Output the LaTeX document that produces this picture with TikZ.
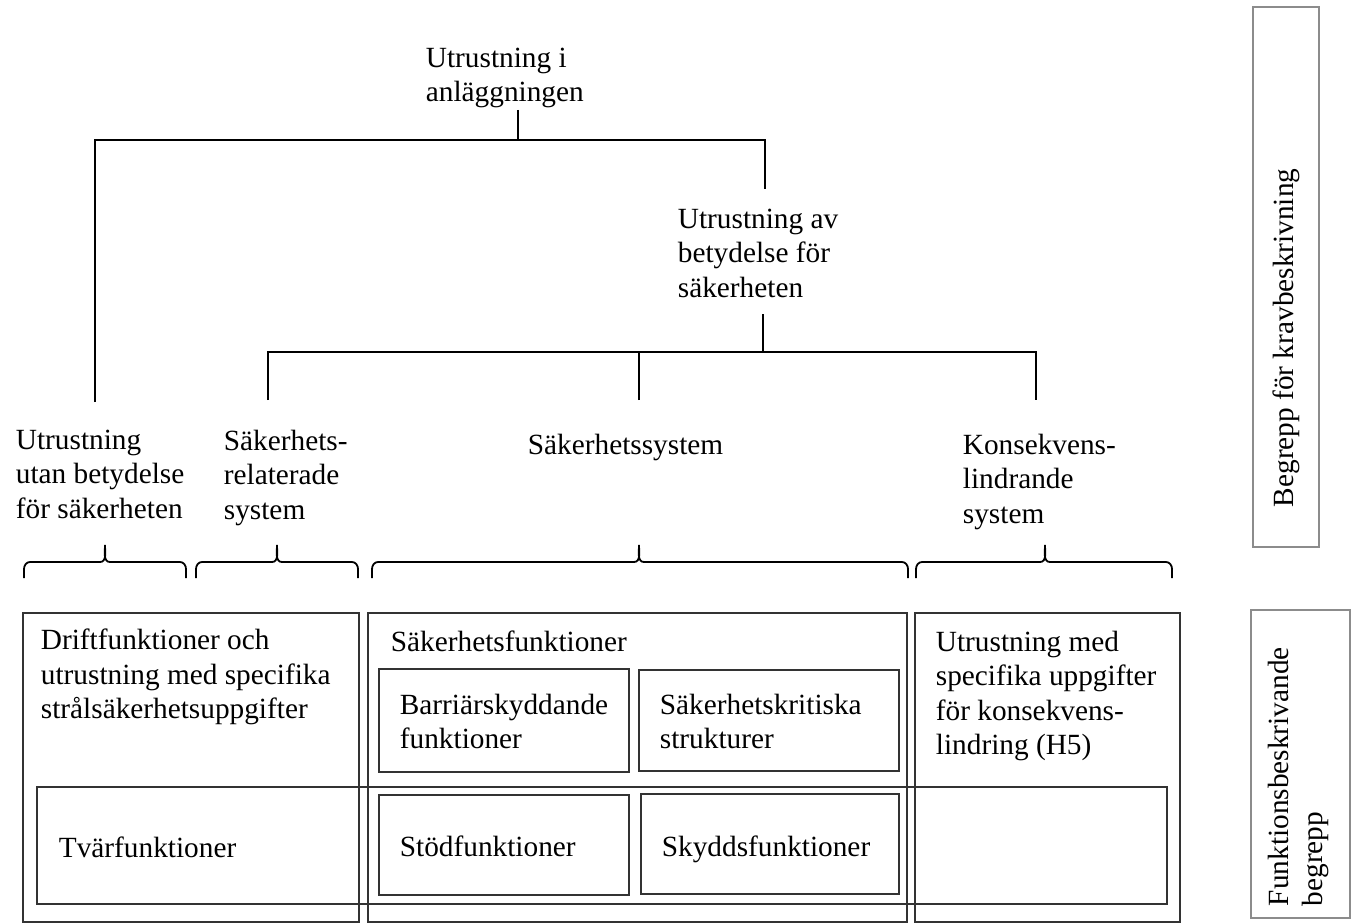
\documentclass[tikz,border=0pt]{standalone}
\usepackage{fontspec}
\setmainfont{Liberation Serif}
\usetikzlibrary{calc}

\begin{document}
\begin{tikzpicture}[
    x = 1pt,
    y = -1pt,
    line width = 1.8pt,
    label/.style = {
      anchor = north west,
      align = left,
      inner sep = 0pt,
      font = \fontsize{29.3}{34.5}\selectfont
    },
    side/.style = {
      label,
      rotate = 90
    },
    frame/.style = {
      draw = black!80,
      line width = 1.4pt
    },
    sideframe/.style = {
      draw = black!45,
      line width = 1.4pt
    }
  ]
  \useasboundingbox (0,0) rectangle (1352,923);

  % tree
  \node[label] (anl) at (425,47) {Utrustning i\\anläggningen};
  \node[label] (bet) at (677,208) {Utrustning av\\betydelse för\\säkerheten};

  \node[label] (utan) at (15,429) {Utrustning\\utan betydelse\\för säkerheten};
  \node[label] (rel) at (223,429) {Säkerhets-\\relaterade\\system};
  \node[label] (sys) at (527,433) {Säkerhetssystem};
  \node[label] (kons) at (962,433) {Konsekvens-\\lindrande\\system};

  \coordinate (ta) at (518,110);
  \coordinate (tb) at (518,140);
  \coordinate (tl) at (95,402);
  \coordinate (tr) at (765,189);
  \draw (ta) -- (tb);
  \draw (tl) -- (tl |- tb) -- (tr |- tb) -- (tr);

  \coordinate (sa) at (763,314);
  \coordinate (sb) at (763,352);
  \coordinate (s1) at (268,400);
  \coordinate (s2) at (639,400);
  \coordinate (s3) at (1036,400);
  \draw (sa) -- (sb);
  \draw (s1) -- (s1 |- sb) -- (s3 |- sb) -- (s3);
  \draw (s2) -- (s2 |- sb);

  % braces
  \foreach \xa/\xm/\xb in {24/105/186, 196/277/358, 372/639/908, 916/1045/1172}
    \draw (\xa,578) -- (\xa,569) to[out=90,in=180] (\xa+6,562)
      -- (\xm-5,562) to[out=0,in=-90] (\xm,545) to[out=-90,in=180] (\xm+5,562)
      -- (\xb-6,562) to[out=0,in=90] (\xb,569) -- (\xb,578);

  % boxes
  \draw[frame] (23,613) rectangle (359,922);
  \draw[frame] (368,613) rectangle (907,922);
  \draw[frame] (915,613) rectangle (1180,922);
  \draw[frame] (37,787) rectangle (1167,904);
  \draw[frame] (379,669) rectangle (629,772);
  \draw[frame] (639,670) rectangle (899,771);
  \draw[frame] (379,795) rectangle (629,895);
  \draw[frame] (641,794) rectangle (899,894);

  \node[label] (drift) at (40,628) {Driftfunktioner och\\utrustning med specifika\\strålsäkerhetsuppgifter};
  \node[label] (sakf) at (390,630) {Säkerhetsfunktioner};
  \node[label] (barr) at (399,693) {Barriärskyddande\\funktioner};
  \node[label] (krit) at (659,693) {Säkerhetskritiska\\strukturer};
  \node[label] (med) at (935,630) {Utrustning med\\specifika uppgifter\\för konsekvens-\\lindring (H5)};
  \node[label] (tvar) at (58,836) {Tvärfunktioner};
  \node[label] (stod) at (399,835) {Stödfunktioner};
  \node[label] (skydd) at (661,835) {Skyddsfunktioner};

  % side
  \draw[sideframe] (1253,7) rectangle (1319,547);
  \draw[sideframe] (1251,610) rectangle (1350,918);
  \node[side] (krav) at (1272,508) {Begrepp för kravbeskrivning};
  \node[side] (funk) at (1267,907) {Funktionsbeskrivande\\begrepp};
\end{tikzpicture}
\end{document}
